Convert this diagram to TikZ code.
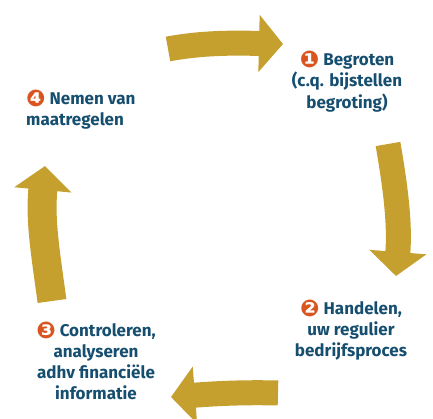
\documentclass[tikz,border=0pt]{standalone}
\usepackage{fontspec}
\setmainfont{Fira Sans}
\newfontfamily\dingfont{DejaVu Sans}
\usetikzlibrary{arrows.meta}
\definecolor{goud}{RGB}{197,160,46}
\definecolor{tekstblauw}{RGB}{22,78,112}
\definecolor{nroranje}{RGB}{217,84,30}
\newcommand{\nr}[1]{\smash{\raisebox{-1.5pt}{\dingfont\fontsize{23}{21}\selectfont\color{nroranje}#1}}}
\tikzset{ >=Triangle, stap/.style={ text=tekstblauw, font=\fontsize{17}{21}\selectfont\bfseries, align=center, inner sep=0pt}, pijl/.style={ draw=goud, line width=25pt, -{Triangle[length=24pt,width=56pt]}}}

\begin{document}
\begin{tikzpicture}[x=1pt, y=-1pt]
    \useasboundingbox (0,0) rectangle (433,419);
    %text
    \node[stap] (begroten) at (347,83) {\nr{❶} Begroten\\(c.q. bijstellen\\begroting)};
    \node[stap] (handelen) at (351,331) {\nr{❷} Handelen,\\uw regulier\\bedrijfsproces};
    \node[stap] (controleren) at (96,362) {\nr{❸} Controleren,\\analyseren\\adhv financiële\\informatie};
    \node[stap, align=left, anchor=west] (maatregelen) at (26,111) {\nr{❹} Nemen van\\maatregelen};
    % brush arrows between the steps
    \coordinate (top-a) at (168,49);
    \coordinate (top-b) at (283,44);
    \coordinate (rechts-a) at (388,144);
    \coordinate (rechts-b) at (396,276);
    \coordinate (onder-a) at (278,393);
    \coordinate (onder-b) at (171,397);
    \coordinate (links-a) at (52,301);
    \coordinate (links-b) at (45,166);
    \draw[pijl] (top-a) .. controls (205,42) and (240,43) .. (top-b);
    \draw[pijl] (rechts-a) .. controls (396,190) and (400,225) .. (rechts-b);
    \draw[pijl] (onder-a) .. controls (240,392) and (210,394) .. (onder-b);
    \draw[pijl, line width=29pt] (links-a) .. controls (45,250) and (40,220) .. (links-b);
\end{tikzpicture}
\end{document}
